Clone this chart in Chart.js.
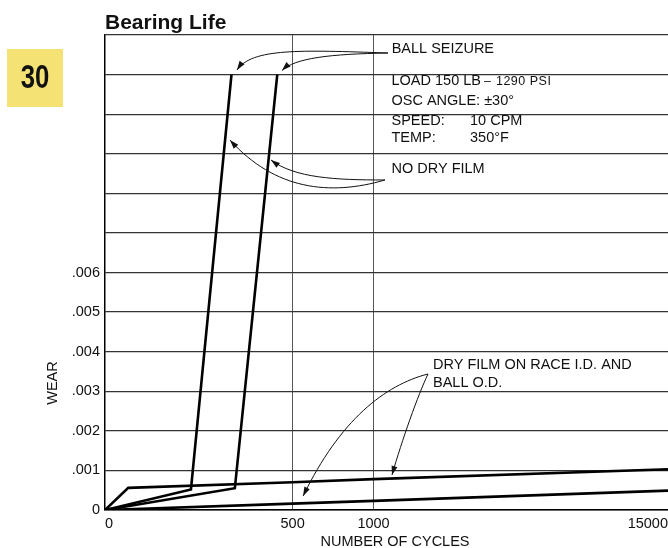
<!DOCTYPE html>
<html>
<head>
<meta charset="utf-8">
<script src="https://cdn.jsdelivr.net/npm/chart.js@4.4.0/dist/chart.umd.min.js"></script>
<style>
  html, body { margin: 0; padding: 0; background: #fff; }
  canvas { display: block; }
</style>
</head>
<body>
<canvas id="wearChart" width="668" height="548"></canvas>
<script>
// axis ticks
const xTicks = [0, 500, 1000, 15000];
const yTickLabels = ["0", ".001", ".002", ".003", ".004", ".005", ".006"];

// no dry film: two bearings that seized
const noFilmLeftX = [0, 229, 337];
const noFilmLeftY = [0, 0.00052, 0.011];
const noFilmRightX = [0, 346, 459];
const noFilmRightY = [0, 0.00055, 0.011];

// dry film on race I.D. and ball O.D.
const dryFilmUpperX = [0, 62, 500, 1000, 15000];
const dryFilmUpperY = [0, 0.00056, 0.0007, 0.00078, 0.00103];
const dryFilmLowerX = [0, 500, 1000, 15000];
const dryFilmLowerY = [0, 0.00016, 0.00023, 0.00049];

const chartTitle = "Bearing Life";
const badgeText = "30";
const xTitle = "NUMBER OF CYCLES";
const yTitle = "WEAR";

// the cycle axis is broken: each tick sits at this fraction of the width
const xBreakFrac = [0, 0.3333, 0.477, 1];

function toFrac(v) {
  for (let i = 1; i < xTicks.length; i++) {
    if (v <= xTicks[i] || i === xTicks.length - 1) {
      const t = (v - xTicks[i - 1]) / (xTicks[i] - xTicks[i - 1]);
      return xBreakFrac[i - 1] + t * (xBreakFrac[i] - xBreakFrac[i - 1]);
    }
  }
  return 0;
}
function fromFrac(f) {
  for (let i = 1; i < xBreakFrac.length; i++) {
    if (f <= xBreakFrac[i] || i === xBreakFrac.length - 1) {
      const t = (f - xBreakFrac[i - 1]) / (xBreakFrac[i] - xBreakFrac[i - 1]);
      return xTicks[i - 1] + t * (xTicks[i] - xTicks[i - 1]);
    }
  }
  return 0;
}

class PiecewiseScale extends Chart.LinearScale {
  buildTicks() {
    return xTicks.map(v => ({ value: v }));
  }
  getPixelForValue(value) {
    return this.getPixelForDecimal(toFrac(value));
  }
  getValueForPixel(pixel) {
    return fromFrac(this.getDecimalForPixel(pixel));
  }
}
PiecewiseScale.id = "piecewise";
PiecewiseScale.defaults = Chart.LinearScale.defaults;
Chart.register(PiecewiseScale);

const pairs = (xs, ys) => xs.map((x, i) => ({ x: x, y: ys[i] }));

const FONT = "'Liberation Sans', Arial, sans-serif";
const INK = "#111";

// annotation texts, anchored in data units (cycles, wear)
const notes = [
  ["BALL SEIZURE", 1863, 0.01165],
  ["OSC ANGLE: \u00b130\u00b0", 1853, 0.01033],
  ["SPEED:", 1853, 0.00984],
  ["10 CPM", 5586, 0.00984],
  ["TEMP:", 1853, 0.00939],
  ["350\u00b0F", 5586, 0.00939],
  ["NO DRY FILM", 1853, 0.00862],
  ["DRY FILM ON RACE I.D. AND", 3827, 0.00366],
  ["BALL O.D.", 3827, 0.00322]
];
// leader curves: start, control 1, control 2, arrow tip
const leaders = [
  [[1687, 0.011545], [545, 0.011621], [391.6, 0.011672], [351.7, 0.011116]],
  [[1687, 0.011545], [730.8, 0.01152], [514.4, 0.011419], [471.6, 0.011103]],
  [[1544, 0.008337], [730.8, 0.007932], [452.9, 0.008084], [333, 0.009347]],
  [[1544, 0.008337], [761.7, 0.008337], [514.4, 0.008387], [442.3, 0.008842]],
  [[3589, 0.003436], [1544, 0.003158], [792.6, 0.002274], [564.8, 0.000354]],
  [[3589, 0.003436], [3113, 0.002905], [2353, 0.001768], [1877, 0.000884]]
];

const notesPlugin = {
  id: "notes",
  afterDraw(chart) {
    const ctx = chart.ctx;
    const area = chart.chartArea;
    const sx = chart.scales.x, sy = chart.scales.y;
    const P = p => [sx.getPixelForValue(p[0]), sy.getPixelForValue(p[1])];
    ctx.save();

    // page badge
    ctx.fillStyle = "#f4e374";
    ctx.fillRect(7, 49, 56, 58);
    ctx.save();
    ctx.translate(35, 79);
    ctx.scale(0.78, 1);
    ctx.fillStyle = INK;
    ctx.font = "bold 33px " + FONT;
    ctx.textAlign = "center";
    ctx.textBaseline = "middle";
    ctx.fillText(badgeText, 0, 0);
    ctx.restore();

    // title
    ctx.fillStyle = INK;
    ctx.font = "bold 21px " + FONT;
    ctx.textAlign = "left";
    ctx.textBaseline = "alphabetic";
    ctx.fillText(chartTitle, area.left, area.top - 6);

    // axis titles
    ctx.font = "14.5px " + FONT;
    ctx.textAlign = "center";
    ctx.textBaseline = "middle";
    ctx.fillText(xTitle, area.left + 290, area.bottom + 32);
    ctx.save();
    ctx.translate(area.left - 52, area.bottom - 127);
    ctx.rotate(-Math.PI / 2);
    ctx.fillText(yTitle, 0, 0);
    ctx.restore();

    // notes
    ctx.textAlign = "left";
    notes.forEach(n => {
      const [px, py] = P([n[1], n[2]]);
      ctx.fillText(n[0], px, py);
    });
    const [lx, ly] = P([1853, 0.01084]);
    const big = "LOAD 150 LB";
    ctx.fillText(big, lx, ly);
    const w = ctx.measureText(big).width;
    ctx.font = "12.5px " + FONT;
    ctx.fillText("\u2013", lx + w + 3, ly + 1);
    if ("letterSpacing" in ctx) ctx.letterSpacing = "0.5px";
    ctx.fillText("1290 PSI", lx + w + 15, ly + 1);
    if ("letterSpacing" in ctx) ctx.letterSpacing = "0px";

    // leaders with arrow heads
    ctx.strokeStyle = INK;
    ctx.lineWidth = 1;
    leaders.forEach(c => {
      const [a, b, d, e] = c.map(P);
      ctx.beginPath();
      ctx.moveTo(a[0], a[1]);
      ctx.bezierCurveTo(b[0], b[1], d[0], d[1], e[0], e[1]);
      ctx.stroke();
      const ang = Math.atan2(e[1] - d[1], e[0] - d[0]);
      ctx.beginPath();
      ctx.moveTo(e[0], e[1]);
      ctx.lineTo(e[0] - 9 * Math.cos(ang) + 3 * Math.sin(ang), e[1] - 9 * Math.sin(ang) - 3 * Math.cos(ang));
      ctx.lineTo(e[0] - 9 * Math.cos(ang) - 3 * Math.sin(ang), e[1] - 9 * Math.sin(ang) + 3 * Math.cos(ang));
      ctx.closePath();
      ctx.fill();
    });
    ctx.restore();
  }
};

const lineStyle = { borderColor: "#000", borderWidth: 2.6, pointRadius: 0, tension: 0, fill: false };

new Chart(document.getElementById("wearChart"), {
  type: "line",
  data: {
    datasets: [
      Object.assign({ label: "No dry film 1", data: pairs(noFilmLeftX, noFilmLeftY) }, lineStyle),
      Object.assign({ label: "No dry film 2", data: pairs(noFilmRightX, noFilmRightY) }, lineStyle),
      Object.assign({ label: "Dry film 1", data: pairs(dryFilmUpperX, dryFilmUpperY) }, lineStyle),
      Object.assign({ label: "Dry film 2", data: pairs(dryFilmLowerX, dryFilmLowerY) }, lineStyle)
    ]
  },
  options: {
    responsive: false,
    animation: false,
    layout: { padding: { top: 35, left: 0, right: 0, bottom: 0 } },
    plugins: { legend: { display: false }, tooltip: { enabled: false } },
    scales: {
      x: {
        type: "piecewise",
        min: 0,
        max: 15000,
        afterFit(s) {
          s.height = 38;
          // the plot runs to the right edge of the page
          s.paddingLeft = 0;
          s.paddingRight = 0;
        },
        border: { color: "#000", width: 1.5 },
        grid: {
          drawTicks: false,
          lineWidth: 1,
          color: c => (c.tick && (c.tick.value === 500 || c.tick.value === 1000)) ? "#555" : "rgba(0,0,0,0)"
        },
        ticks: {
          autoSkip: false,
          maxRotation: 0,
          align: "inner",
          padding: 5,
          color: INK,
          font: { family: FONT, size: 14.5 },
          callback: v => String(v)
        }
      },
      y: {
        type: "linear",
        min: 0,
        max: 0.012,
        afterFit(s) { s.width = 105; },
        border: { color: "#000", width: 1.5 },
        grid: { drawTicks: false, color: "#333", lineWidth: 1.2 },
        ticks: {
          stepSize: 0.001,
          padding: 5,
          color: INK,
          font: { family: FONT, size: 14.5 },
          callback: v => yTickLabels[Math.round(v * 1000)] || ""
        }
      }
    }
  },
  plugins: [notesPlugin]
});
</script>
</body>
</html>
